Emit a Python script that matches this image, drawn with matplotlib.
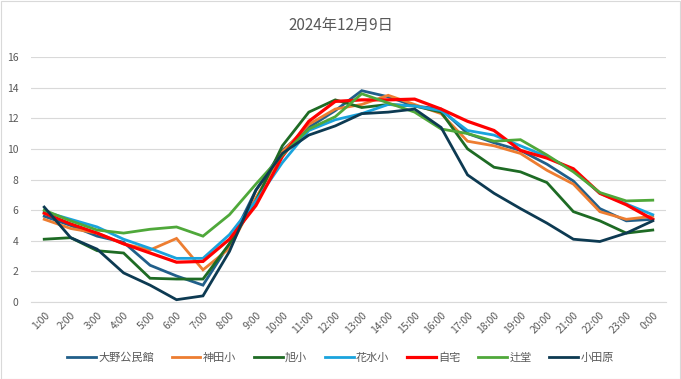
import matplotlib

matplotlib.use("Agg")
import matplotlib.pyplot as plt
from matplotlib.patches import Rectangle

plt.rcParams["font.family"] = ["Noto Sans CJK JP", "DejaVu Sans"]

title = "2024年12月9日"
hours = [f"{h}:00" for h in range(1, 24)] + ["0:00"]

series_names = ["大野公民館", "神田小", "旭小", "花水小", "自宅", "辻堂", "小田原"]
series_colors = ["#215F8A", "#ED7D31", "#1E6B24", "#1AA3DD", "#FF0000", "#4FA83A", "#0D3A52"]

ohno = [5.6, 5.0, 4.3, 3.9, 2.4, 1.7, 1.1, 3.8, 7.3, 9.9, 11.4, 12.5,
        13.8, 13.4, 12.8, 12.6, 11.0, 10.4, 9.9, 9.0, 7.9, 6.1, 5.3, 5.4]
kanda = [5.4, 4.8, 4.5, 3.8, 3.4, 4.15, 2.1, 3.5, 6.8, 9.8, 11.6, 12.6,
         12.9, 13.5, 12.9, 12.3, 10.5, 10.2, 9.7, 8.6, 7.7, 5.9, 5.4, 5.6]
asahi = [4.1, 4.2, 3.35, 3.2, 1.55, 1.5, 1.5, 3.8, 6.6, 10.2, 12.4, 13.2,
         12.7, 12.9, 12.8, 12.4, 10.0, 8.8, 8.5, 7.8, 5.9, 5.3, 4.5, 4.7]
hanamizu = [5.9, 5.4, 4.9, 4.1, 3.5, 2.85, 2.85, 4.4, 6.6, 9.1, 11.2, 11.9,
            12.3, 12.9, 12.8, 12.5, 11.2, 10.9, 10.2, 9.5, 8.6, 7.1, 6.4, 5.7]
home = [5.8, 5.1, 4.5, 3.8, 3.2, 2.6, 2.65, 4.1, 6.3, 9.5, 11.8, 13.1,
        13.2, 13.2, 13.25, 12.6, 11.8, 11.2, 9.9, 9.4, 8.7, 7.1, 6.35, 5.4]
tsujido = [6.0, 5.3, 4.7, 4.5, 4.75, 4.9, 4.3, 5.7, 7.7, 9.6, 11.3, 12.1,
           13.6, 13.0, 12.4, 11.3, 11.0, 10.5, 10.6, 9.6, 8.5, 7.15, 6.6, 6.65]
odawara = [6.2, 4.2, 3.45, 1.9, 1.1, 0.15, 0.4, 3.3, 7.3, 9.7, 10.9, 11.5,
           12.3, 12.4, 12.6, 11.4, 8.3, 7.1, 6.1, 5.15, 4.1, 3.95, 4.5, 5.3]

series_values = [ohno, kanda, asahi, hanamizu, home, tsujido, odawara]

text_color = "#595959"
grid_color = "#D9D9D9"

fig = plt.figure(figsize=(6.81, 3.79), dpi=100)
ax = fig.add_axes([31 / 681, 1 - 302 / 379, 635 / 681, 245 / 379])

x = list(range(len(hours)))
for name, color, values in zip(series_names, series_colors, series_values):
    lw = 2.3 if name == "自宅" else 2.0
    ax.plot(x, values, color=color, linewidth=lw, label=name, solid_joinstyle="miter")

ax.set_xlim(-0.5, len(hours) - 0.5)
ax.set_ylim(0, 16)
ax.set_yticks(range(0, 17, 2))
ax.set_xticks(x)
ax.set_xticklabels(hours, rotation=45, ha="right", rotation_mode="anchor")
ax.tick_params(axis="both", length=0, colors=text_color, labelsize=7.5)
ax.tick_params(axis="x", pad=6)
ax.tick_params(axis="y", pad=9)
ax.grid(True, axis="y", color=grid_color, linewidth=0.8)
ax.set_axisbelow(True)
for spine in ax.spines.values():
    spine.set_visible(False)
ax.spines["bottom"].set_visible(True)
ax.spines["bottom"].set_color(grid_color)
ax.spines["bottom"].set_linewidth(0.8)

fig.text(0.5, 1 - 25 / 379, title, ha="center", va="center", fontsize=11, color=text_color)

fig.legend(
    loc="center",
    bbox_to_anchor=(0.5, 1 - 358 / 379),
    ncol=len(series_names),
    frameon=False,
    fontsize=8,
    labelcolor=text_color,
    handlelength=2.6,
    handletextpad=0.2,
    columnspacing=1.6,
)

fig.patches.append(
    Rectangle((0.5 / 681, 0.5 / 379), 679.5 / 681, 377.5 / 379, transform=fig.transFigure,
              fill=False, edgecolor="#D9D9D9", linewidth=0.8)
)

fig.savefig("out.png", dpi=100)
